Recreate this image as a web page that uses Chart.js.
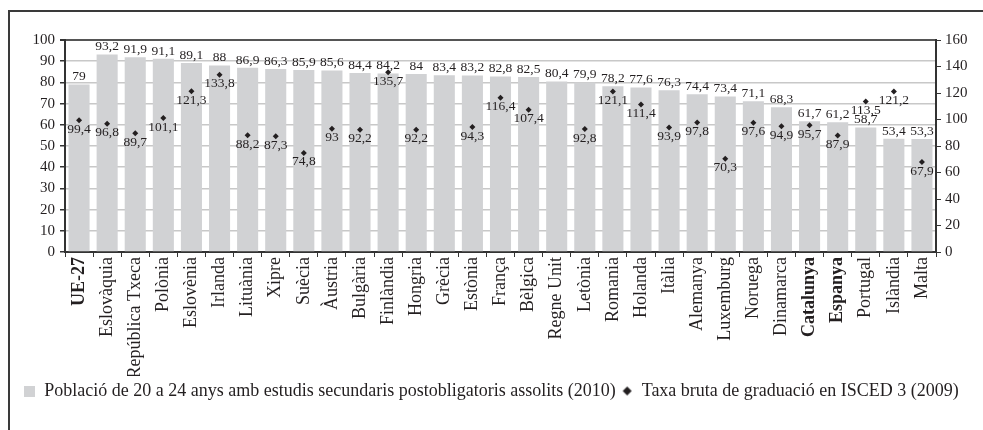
<!DOCTYPE html>
<html lang="ca">
<head>
<meta charset="UTF-8">
<script src="https://cdn.jsdelivr.net/npm/chart.js@4.4.0/dist/chart.umd.min.js"></script>
<title>Població amb estudis secundaris postobligatoris</title>
<style>
  html, body { margin: 0; padding: 0; background: #fff; }
  #wrap { position: relative; width: 983px; height: 430px; }
  #frame { position: absolute; left: 8px; top: 10px; right: 0; bottom: 0;
           border-left: 2px solid #3a3a3a; border-top: 2px solid #3a3a3a; pointer-events: none; }
</style>
</head>
<body>
<div id="wrap">
  <canvas id="myChart" width="983" height="430"></canvas>
  <div id="frame"></div>
</div>
<script>
// categories (bold ones: UE-27, Catalunya, Espanya)
const paisos = ['UE-27', 'Eslovàquia', 'República Txeca', 'Polònia', 'Eslovènia', 'Irlanda',
  'Lituània', 'Xipre', 'Suècia', 'Àustria', 'Bulgària', 'Finlàndia', 'Hongria', 'Grècia',
  'Estònia', 'França', 'Bèlgica', 'Regne Unit', 'Letònia', 'Romania', 'Holanda', 'Itàlia',
  'Alemanya', 'Luxemburg', 'Noruega', 'Dinamarca', 'Catalunya', 'Espanya', 'Portugal',
  'Islàndia', 'Malta'];
const destacats = ['UE-27', 'Catalunya', 'Espanya'];

// bars: població 20-24 anys amb estudis secundaris postobligatoris (2010)
const poblacio = [79, 93.2, 91.9, 91.1, 89.1, 88, 86.9, 86.3, 85.9, 85.6, 84.4, 84.2, 84,
  83.4, 83.2, 82.8, 82.5, 80.4, 79.9, 78.2, 77.6, 76.3, 74.4, 73.4, 71.1, 68.3, 61.7, 61.2,
  58.7, 53.4, 53.3];

// diamonds: taxa bruta de graduació ISCED 3 (2009), right axis
const taxa = [99.4, 96.8, 89.7, 101.1, 121.3, 133.8, 88.2, 87.3, 74.8, 93, 92.2, 135.7, 92.2,
  null, 94.3, 116.4, 107.4, null, 92.8, 121.1, 111.4, 93.9, 97.8, 70.3, 97.6, 94.9, 95.7, 87.9,
  113.5, 121.2, 67.9];

const SERIF = '"Liberation Serif", "DejaVu Serif", serif';
const INK = '#231f20';
const GRIS = '#d1d2d4';

function fmt(v) { return String(v).replace('.', ','); }

// petites icones per a la llegenda
function icona(tipus) {
  const cv = document.createElement('canvas');
  cv.width = 11; cv.height = 11;
  const g = cv.getContext('2d');
  if (tipus === 'quadrat') {
    g.fillStyle = GRIS;
    g.fillRect(0, 0, 11, 11);
  } else {
    g.fillStyle = INK;
    g.beginPath();
    g.moveTo(5.5, 1); g.lineTo(10, 5.5); g.lineTo(5.5, 10); g.lineTo(1, 5.5);
    g.closePath(); g.fill();
  }
  return cv;
}
const icones = [icona('quadrat'), icona('diamant')];

// value labels above bars and under diamonds
const etiquetes = {
  id: 'etiquetes',
  afterDatasetsDraw(chart) {
    const c = chart.ctx;
    c.save();
    c.font = '13.5px ' + SERIF;
    c.fillStyle = INK;
    c.textAlign = 'center';
    chart.getDatasetMeta(0).data.forEach((bar, i) => {
      c.textBaseline = 'bottom';
      c.fillText(fmt(poblacio[i]), bar.x, bar.y - 1);
    });
    chart.getDatasetMeta(1).data.forEach((pt, i) => {
      if (taxa[i] === null) return;
      c.textBaseline = 'middle';
      c.fillText(fmt(taxa[i]), pt.x, pt.y + 9);
    });
    c.restore();
  }
};

const ctx = document.getElementById('myChart').getContext('2d');
const myChart = new Chart(ctx, {
  data: {
    labels: paisos,
    datasets: [{
      type: 'bar',
      label: 'Població de 20 a 24 anys amb estudis secundaris postobligatoris assolits (2010)',
      data: poblacio,
      backgroundColor: GRIS,
      barPercentage: 0.75,
      categoryPercentage: 1.0,
      yAxisID: 'y',
      order: 2
    }, {
      type: 'line',
      label: 'Taxa bruta de graduació en ISCED 3 (2009)',
      data: taxa,
      showLine: false,
      pointStyle: 'rectRot',
      pointRadius: 3,
      pointBackgroundColor: INK,
      pointBorderColor: INK,
      pointBorderWidth: 0,
      backgroundColor: INK,
      borderColor: INK,
      yAxisID: 'y2',
      order: 1
    }]
  },
  options: {
    responsive: false,
    animation: false,
    layout: { padding: { left: 0, right: 0, top: 40, bottom: 20 } },
    plugins: {
      tooltip: { enabled: false },
      legend: {
        position: 'bottom',
        labels: {
          usePointStyle: true,
          boxWidth: 11,
          boxHeight: 11,
          padding: 6,
          color: INK,
          font: { family: SERIF, size: 18 },
          sort: (a, b) => a.datasetIndex - b.datasetIndex,
          generateLabels(chart) {
            const items = Chart.defaults.plugins.legend.labels.generateLabels(chart);
            items.forEach(it => { it.pointStyle = icones[it.datasetIndex]; });
            return items;
          }
        }
      }
    },
    scales: {
      x: {
        afterFit(s) { s.height = 124; },
        border: { color: '#333', width: 2 },
        grid: { drawOnChartArea: false, drawTicks: true, tickLength: 5, tickColor: '#333', offset: true },
        ticks: {
          color: INK,
          minRotation: 90,
          maxRotation: 90,
          autoSkip: false,
          padding: 0,
          font: ctx => ({
            family: SERIF,
            size: 18,
            weight: destacats.includes(paisos[ctx.index]) ? 'bold' : 'normal'
          })
        }
      },
      y: {
        position: 'left',
        min: 0, max: 100,
        afterFit(s) { s.width = 65; },
        border: { color: '#333', width: 2 },
        grid: {
          color: ctx => ctx.tick && ctx.tick.value === 100 ? '#555' : '#c8c8c8',
          lineWidth: ctx => ctx.tick && ctx.tick.value === 100 ? 2 : 1.5,
          tickColor: '#333',
          tickLength: 5
        },
        ticks: { stepSize: 10, color: INK, padding: 5, font: { family: SERIF, size: 15 } }
      },
      y2: {
        position: 'right',
        min: 0, max: 160,
        afterFit(s) { s.width = 47; },
        border: { color: '#333', width: 2 },
        grid: { drawOnChartArea: false, tickColor: '#333', tickLength: 5 },
        ticks: { stepSize: 20, color: INK, padding: 4, font: { family: SERIF, size: 15 } }
      }
    }
  },
  plugins: [etiquetes]
});
</script>
</body>
</html>
